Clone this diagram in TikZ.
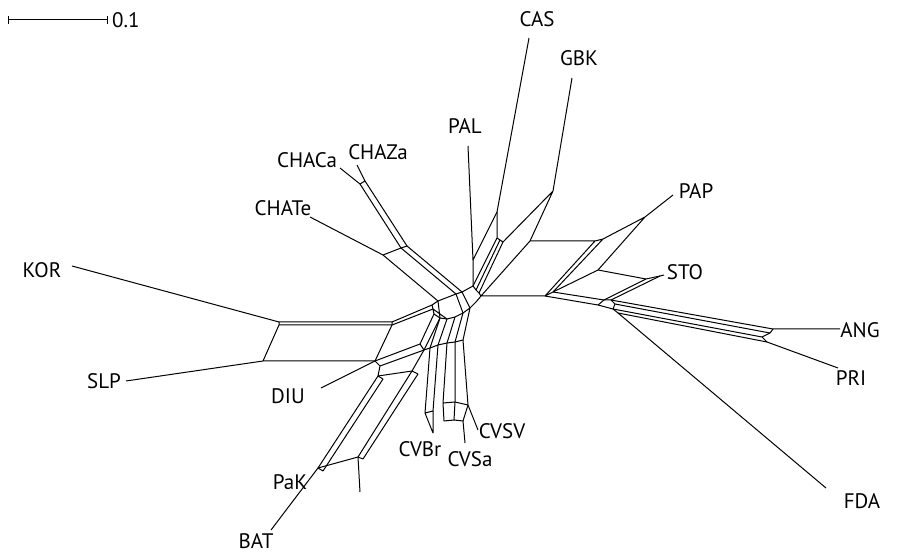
\documentclass[tikz,border=0pt]{standalone}
\usepackage{fontspec}
\setmainfont{PT Sans}
\usetikzlibrary{arrows.meta}
\tikzset{
  net/.style={line width=1pt, black, line join=round},
  lab/.style={font=\fontsize{21}{21}\selectfont, inner sep=0pt},
}
\begin{document}
\begin{tikzpicture}[x=1pt,y=-1pt]
\useasboundingbox (0,0) rectangle (900,553);

% ---- scale bar ----
\coordinate (sb1) at (8,20);
\coordinate (sb2) at (108,20);
\draw[net, {Bar[width=8pt]}-{Bar[width=8pt]}] (sb1) -- (sb2);
\node[lab, anchor=west] (sbl) at (112,20) {0.1};

% ---- labels ----
\node[lab] (CAS) at (537,19) {CAS};
\node[lab] (GBK) at (579,58) {GBK};
\node[lab] (PAL) at (465,126) {PAL};
\node[lab] (CHACa) at (307,160) {CHACa};
\node[lab] (CHAZa) at (378,152) {CHAZa};
\node[lab] (CHATe) at (283,208) {CHATe};
\node[lab] (PAP) at (696,191) {PAP};
\node[lab] (STO) at (685,272) {STO};
\node[lab] (KOR) at (42,270) {KOR};
\node[lab] (ANG) at (860,330) {ANG};
\node[lab] (PRI) at (851,378) {PRI};
\node[lab] (SLP) at (104,381) {SLP};
\node[lab] (DIU) at (288,396) {DIU};
\node[lab] (CVBr) at (420,449) {CVBr};
\node[lab] (CVSa) at (470,459) {CVSa};
\node[lab] (CVSV) at (502,431) {CVSV};
\node[lab] (PaK) at (290,482) {PaK};
\node[lab] (FDA) at (862,501) {FDA};
\node[lab] (BAT) at (256,541) {BAT};

% ---- leaf ends ----
\coordinate (casL) at (529,38);
\coordinate (gbkL) at (572,78);
\coordinate (palL) at (468,146);
\coordinate (caL) at (340,168);
\coordinate (zaL) at (357,165);
\coordinate (teL) at (310,217);
\coordinate (papL) at (673,195);
\coordinate (stoL) at (664,275);
\coordinate (korL) at (72,266);
\coordinate (angL) at (840,329);
\coordinate (priL) at (838,368);
\coordinate (slpL) at (126,381);
\coordinate (diuL) at (321,388);
\coordinate (brL) at (433,433);
\coordinate (saL) at (465,443);
\coordinate (svL) at (478,430);
\coordinate (pakL) at (360,492);
\coordinate (fdaL) at (826,488);
\coordinate (batL) at (271,530);

% ---- central ring ----
\coordinate (Ht) at (438,301);
\coordinate (Hc) at (456,294);
\coordinate (Hz) at (462,292);
\coordinate (P4) at (473,286);
\coordinate (R1) at (476,290);
\coordinate (R2) at (479,293);
\coordinate (H0) at (481,296);
\coordinate (L8) at (476,302);
\coordinate (L7) at (470,308);
\coordinate (L6) at (463,313);
\coordinate (L5) at (455,317);
\coordinate (L4) at (447,319);
\coordinate (L3) at (440,318);
\coordinate (L2) at (434,314);
\coordinate (L1b) at (433,309);
\coordinate (L1) at (432,305);
\draw[net] (Ht) -- (Hc) -- (Hz) -- (P4) -- (R1) -- (R2) -- (H0) -- (L8) -- (L7)
  -- (L6) -- (L5) -- (L4) -- (L3) -- (L2) -- (L1b) -- (L1) -- (Ht) -- cycle;
\draw[net] (Hc) -- (L6) (Hz) -- (L7) (Ht) -- (L3) (L1b) -- (L4);

% ---- CHA group ----
\coordinate (te) at (383,255);
\coordinate (ca) at (401,248);
\coordinate (za) at (407,246);
\coordinate (caN) at (360,184);
\coordinate (zaN) at (365,181);
\draw[net] (teL) -- (te) -- (ca) -- (za);
\draw[net] (caL) -- (caN) -- (zaN) -- (zaL);
\draw[net] (ca) -- (caN) (za) -- (zaN);
\draw[net] (te) -- (Ht) (ca) -- (Hc) (za) -- (Hz);

% ---- PAL / CAS ----
\coordinate (P1) at (473,260);
\coordinate (P2) at (497,212);
\coordinate (P3) at (497,238);
\coordinate (Q1) at (500,240);
\coordinate (Q2) at (503,242);
\draw[net] (palL) -- (P1) -- (P2) -- (casL);
\draw[net] (P1) -- (P4) (P2) -- (P3) -- (Q1) -- (Q2);
\draw[net] (P3) -- (P4) (Q1) -- (R1) (Q2) -- (R2);

% ---- GBK / PAP / STO block ----
\coordinate (B1) at (545,296);
\coordinate (Bb) at (553,292);
\coordinate (B2) at (595,241);
\coordinate (B2b) at (603,239);
\coordinate (B3) at (530,241);
\coordinate (g) at (553,191);
\coordinate (p) at (645,217);
\coordinate (S1) at (598,270);
\coordinate (S2) at (646,279);
\coordinate (sN) at (660,276);
\draw[net] (H0) -- (B1) -- (Bb) (B3) -- (B2) -- (B2b) (H0) -- (B3) (B1) -- (B2) (Bb) -- (B2b);
\draw[net] (Q2) -- (g) -- (B3) (g) -- (gbkL);
\draw[net] (B2b) -- (p) -- (papL) (S1) -- (p);
\draw[net] (Bb) -- (S1) -- (S2) -- (sN) -- (stoL);

% ---- ANG / PRI / FDA band ----
\coordinate (W1) at (598,305);
\coordinate (W2) at (604,300);
\coordinate (W3) at (611,300);
\coordinate (W4) at (615,304);
\coordinate (X1) at (613,309);
\coordinate (W5) at (618,313);
\coordinate (V1) at (773,329);
\coordinate (V2) at (770,333);
\coordinate (V3) at (762,337);
\coordinate (V4) at (767,342);
\draw[net] (B1) -- (W1) -- (W2) -- (W3) -- (W4) -- (X1) -- (W5);
\draw[net] (Bb) -- (W2) (W1) -- (X1);
\draw[net] (S2) -- (W2) (sN) -- (W3);
\draw[net] (W3) -- (V1) (W4) -- (V2) (X1) -- (V3) (W5) -- (V4);
\draw[net] (V1) -- (V2) -- (V3) -- (V4);
\draw[net] (V1) -- (angL) (V4) -- (priL) (W5) -- (fdaL);

% ---- KOR / SLP box ----
\coordinate (K1) at (392,322);
\coordinate (K1b) at (392,325);
\coordinate (K2) at (279,322);
\coordinate (K2b) at (279,325);
\coordinate (D0) at (375,361);
\coordinate (K3) at (263,361);
\draw[net] (korL) -- (K2) -- (K1) -- (K1b) -- (K2b) -- (K2);
\draw[net] (K2b) -- (K3) -- (D0) -- (K1b);
\draw[net] (K3) -- (slpL);
\draw[net] (K1) -- (L1) (K1b) -- (L1b);

% ---- DIU / BAT / PaK ----
\coordinate (D1) at (380,366);
\coordinate (D2) at (378,376);
\coordinate (D2b) at (383,379);
\coordinate (E0) at (420,344);
\coordinate (E1) at (424,350);
\coordinate (F1) at (412,371);
\coordinate (F2) at (418,374);
\coordinate (Bt1) at (318,468);
\coordinate (Bt2) at (323,471);
\coordinate (Pk1) at (358,457);
\coordinate (Pk2) at (363,459);
\draw[net] (diuL) -- (D0) -- (D1) -- (D2) -- (D2b);
\draw[net] (D0) -- (E0) (D1) -- (E1) (D2) -- (F1);
\draw[net] (E0) -- (E1) -- (F1) -- (F2);
\draw[net] (E0) -- (L2) (E1) -- (L3);
\draw[net] (D2) -- (Bt1) (D2b) -- (Bt2) (Bt1) -- (Bt2);
\draw[net] (F1) -- (Pk1) (F2) -- (Pk2) (Pk1) -- (Pk2);
\draw[net] (Bt1) -- (Pk1);
\draw[net] (Bt1) -- (batL) (Pk1) -- (pakL);

% ---- CV cluster ----
\coordinate (C1) at (430,348);
\coordinate (C2) at (438,345);
\coordinate (C3) at (447,343);
\coordinate (C4) at (455,342);
\coordinate (C5) at (463,340);
\coordinate (Br1) at (425,413);
\coordinate (Br2) at (433,411);
\coordinate (Sa1) at (443,403);
\coordinate (Sa2) at (455,402);
\coordinate (Sa3) at (454,420);
\coordinate (Sa4) at (444,421);
\coordinate (Sa5) at (463,421);
\coordinate (V5) at (468,405);
\draw[net] (E1) -- (C1) -- (C2) -- (C3) -- (C4) -- (C5);
\draw[net] (L3) -- (C1) (L4) -- (C2) (L5) -- (C3) (L6) -- (C4) (L7) -- (C5);
\draw[net] (C1) -- (Br1) (C2) -- (Br2) (Br1) -- (Br2) (Br1) -- (brL) (Br2) -- (brL);
\draw[net] (C3) -- (Sa1) (C4) -- (Sa2) (Sa1) -- (Sa2) -- (Sa3) -- (Sa4) -- (Sa1);
\draw[net] (Sa3) -- (Sa5) -- (saL) (Sa2) -- (V5);
\draw[net] (C5) -- (V5) -- (svL) (V5) -- (Sa5);
\end{tikzpicture}
\end{document}
